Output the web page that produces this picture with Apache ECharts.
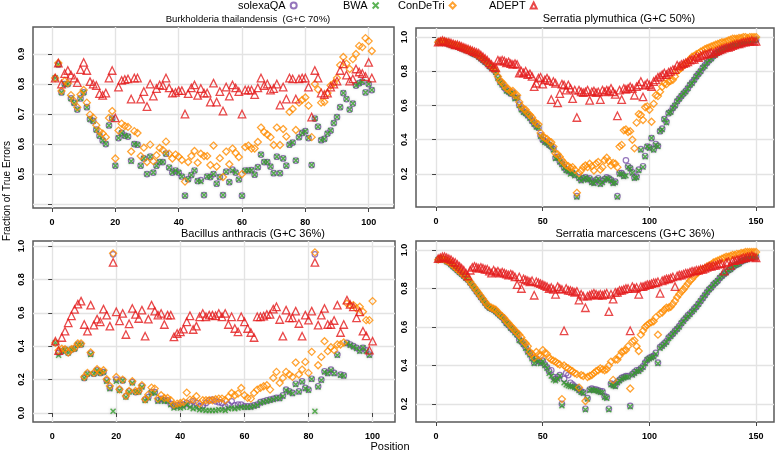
<!DOCTYPE html>
<html>
<head>
<meta charset="utf-8">
<script src="https://cdn.jsdelivr.net/npm/echarts@6/dist/echarts.min.js"></script>
<style>html,body{margin:0;padding:0;background:#fff}#c{width:778px;height:456px}</style>
</head>
<body>
<div id="c"></div>
<script>
// ---------- DATA ----------
const seriesNames = ['solexaQA', 'BWA', 'ConDeTri', 'ADEPT'];
const panelTitles = ['Burkholderia thailandensis  (G+C 70%)', 'Serratia plymuthica (G+C 50%)', 'Bacillus anthracis (G+C 36%)', 'Serratia marcescens (G+C 36%)'];

const pos101 = [1,2,3,4,5,6,7,8,9,10,11,12,13,14,15,16,17,18,19,20,21,22,23,24,25,26,27,28,29,30,31,32,33,34,35,36,37,38,39,40,41,42,43,44,45,46,47,48,49,50,51,52,53,54,55,56,57,58,59,60,61,62,63,64,65,66,67,68,69,70,71,72,73,74,75,76,77,78,79,80,81,82,83,84,85,86,87,88,89,90,91,92,93,94,95,96,97,98,99,100,101];
const pos150 = [1,2,3,4,5,6,7,8,9,10,11,12,13,14,15,16,17,18,19,20,21,22,23,24,25,26,27,28,29,30,31,32,33,34,35,36,37,38,39,40,41,42,43,44,45,46,47,48,49,50,51,52,53,54,55,56,57,58,59,60,61,62,63,64,65,66,67,68,69,70,71,72,73,74,75,76,77,78,79,80,81,82,83,84,85,86,87,88,89,90,91,92,93,94,95,96,97,98,99,100,101,102,103,104,105,106,107,108,109,110,111,112,113,114,115,116,117,118,119,120,121,122,123,124,125,126,127,128,129,130,131,132,133,134,135,136,137,138,139,140,141,142,143,144,145,146,147,148,149,150];

// Panel 1: Burkholderia thailandensis
const p1Adept = [0.82,0.87,0.80,0.835,0.845,0.83,0.82,0.805,0.848,0.872, 0.845,0.808,0.80,0.795,0.768,0.762,0.77,0.82,0.845,0.687, 0.79,0.812,0.815,0.817,0.75,0.82,0.82,0.75,0.775,0.725, 0.80,0.76,0.785,0.797,0.795,0.82,0.787,0.77,0.772,0.778, 0.778,0.70,0.768,0.787,0.797,0.762,0.785,0.77,0.77,0.74, 0.803,0.74,0.775,0.71,0.79,0.76,0.797,0.787,0.775,0.70, 0.78,0.78,0.78,0.765,0.787,0.82,0.795,0.80,0.78,0.785, 0.80,0.73,0.79,0.75,0.82,0.817,0.75,0.817,0.82,0.82, 0.79,0.69,0.845,0.82,0.77,0.765,0.77,0.79,0.80,0.81, 0.845,0.867,0.83,0.81,0.817,0.85,0.84,0.835,0.825,0.872,0.82];
const p1ConDeTri = [0.82,0.87,0.777,0.81,0.803,0.763,0.743,0.723,0.765,0.78, 0.738,0.698,0.688,0.663,0.642,0.635,0.623,0.687,0.71,0.552, 0.645,0.668,0.66,0.657,0.575,0.643,0.637,0.56,0.588,0.54, 0.598,0.543,0.563,0.587,0.58,0.608,0.568,0.552,0.565,0.558, 0.547,0.475,0.54,0.56,0.577,0.538,0.568,0.56,0.56,0.53, 0.595,0.525,0.553,0.49,0.575,0.533,0.585,0.57,0.557,0.50, 0.59,0.595,0.585,0.585,0.607,0.655,0.64,0.632,0.623,0.597, 0.655,0.597,0.65,0.625,0.707,0.717,0.647,0.738,0.747,0.755, 0.728,0.623,0.80,0.782,0.738,0.74,0.77,0.795,0.803,0.82, 0.863,0.89,0.868,0.85,0.883,0.9,0.927,0.923,0.953,0.943,0.91];
const p1BWA = [0.82,0.865,0.772,0.80,0.80,0.752,0.737,0.715,0.752,0.772, 0.723,0.683,0.677,0.648,0.628,0.612,0.60,0.662,0.685,0.528, 0.62,0.637,0.628,0.625,0.543,0.60,0.598,0.528,0.552,0.50, 0.558,0.505,0.528,0.54,0.54,0.568,0.522,0.505,0.512,0.505, 0.492,0.428,0.483,0.497,0.512,0.477,0.475,0.43,0.492,0.49, 0.50,0.468,0.49,0.43,0.508,0.473,0.512,0.505,0.482,0.428, 0.512,0.512,0.513,0.498,0.523,0.565,0.54,0.54,0.525,0.503, 0.558,0.503,0.552,0.528,0.598,0.605,0.545,0.623,0.637,0.643, 0.62,0.53,0.685,0.658,0.613,0.617,0.635,0.645,0.67,0.69, 0.723,0.77,0.75,0.715,0.735,0.795,0.803,0.808,0.772,0.80,0.78];
const p1Solexa = [0.82,0.865,0.772,0.80,0.80,0.752,0.737,0.715,0.752,0.772, 0.723,0.683,0.677,0.648,0.628,0.612,0.60,0.662,0.685,0.528, 0.62,0.637,0.628,0.625,0.545,0.60,0.598,0.528,0.552,0.50, 0.558,0.505,0.528,0.54,0.54,0.568,0.522,0.505,0.512,0.505, 0.492,0.428,0.483,0.497,0.512,0.477,0.48,0.43,0.492,0.49, 0.50,0.468,0.49,0.43,0.508,0.473,0.515,0.505,0.482,0.428, 0.512,0.512,0.513,0.498,0.523,0.565,0.54,0.54,0.525,0.503, 0.558,0.503,0.552,0.528,0.598,0.605,0.545,0.623,0.637,0.643, 0.62,0.53,0.685,0.658,0.613,0.617,0.635,0.645,0.67,0.69, 0.723,0.77,0.75,0.715,0.735,0.795,0.803,0.808,0.772,0.80,0.78];

// Panel 2: Serratia plymuthica
const p2Adept = [0.97,0.975,0.98,0.975,0.97,0.97,0.965,0.96,0.955,0.955, 0.95,0.945,0.94,0.935,0.93,0.925,0.92,0.915,0.91,0.905, 0.895,0.885,0.875,0.865,0.85,0.84,0.825,0.82,0.865,0.86, 0.865,0.86,0.85,0.855,0.845,0.84,0.845,0.84,0.79,0.80, 0.79,0.80,0.78,0.785,0.77,0.71,0.73,0.76,0.765,0.725, 0.75,0.76,0.745,0.635,0.74,0.73,0.615,0.67,0.725,0.72, 0.69,0.72,0.70,0.64,0.69,0.53,0.69,0.68,0.675,0.68, 0.69,0.63,0.68,0.685,0.675,0.68,0.635,0.69,0.68,0.69, 0.685,0.70,0.68,0.665,0.54,0.69,0.635,0.70,0.695,0.70, 0.71,0.70,0.66,0.71,0.72,0.74,0.65,0.72,0.73,0.72, 0.71,0.74,0.75,0.765,0.77,0.78,0.79,0.78,0.795,0.80, 0.81,0.81,0.835,0.83,0.84,0.845,0.85,0.855,0.865,0.87, 0.87,0.885,0.88,0.89,0.895,0.9,0.9,0.905,0.91,0.905, 0.915,0.92,0.925,0.93,0.935,0.94,0.94,0.945,0.95,0.955, 0.96,0.96,0.965,0.97,0.97,0.975,0.975,0.98,0.975,0.975];
const p2ConDeTri = [0.97,0.975,0.975,0.975,0.97,0.965,0.96,0.955,0.955,0.95, 0.945,0.94,0.935,0.93,0.925,0.92,0.915,0.905,0.9,0.895, 0.885,0.875,0.865,0.855,0.84,0.83,0.82,0.80,0.77,0.745, 0.735,0.72,0.70,0.695,0.68,0.685,0.66,0.66,0.62,0.595, 0.58,0.575,0.555,0.545,0.53,0.51,0.495,0.49,0.44,0.42, 0.41,0.405,0.39,0.385,0.36,0.32,0.315,0.30,0.28,0.265, 0.25,0.245,0.235,0.24,0.225,0.09,0.205,0.22,0.24,0.25, 0.24,0.26,0.245,0.22,0.26,0.27,0.225,0.24,0.28,0.295, 0.275,0.25,0.265,0.26,0.24,0.36,0.37,0.455,0.46,0.445, 0.45,0.40,0.35,0.50,0.55,0.545,0.515,0.59,0.595,0.575, 0.505,0.61,0.66,0.655,0.68,0.71,0.73,0.725,0.74,0.745, 0.75,0.77,0.80,0.81,0.82,0.835,0.845,0.855,0.87,0.885, 0.89,0.9,0.905,0.915,0.92,0.93,0.935,0.94,0.945,0.95, 0.955,0.96,0.965,0.97,0.97,0.975,0.98,0.985,0.99,0.99, 0.99,0.995,0.995,1.0,1.0,0.995,1.0,1.0,1.0,1.0];
const p2BWA = [0.97,0.97,0.975,0.97,0.965,0.96,0.955,0.95,0.95,0.945, 0.94,0.935,0.93,0.925,0.92,0.915,0.905,0.9,0.895,0.885, 0.875,0.865,0.855,0.845,0.83,0.82,0.81,0.795,0.76,0.735, 0.72,0.705,0.685,0.68,0.67,0.67,0.64,0.645,0.60,0.575, 0.56,0.555,0.54,0.525,0.51,0.49,0.475,0.47,0.42,0.40, 0.385,0.38,0.37,0.36,0.34,0.29,0.295,0.27,0.255,0.235, 0.22,0.215,0.2,0.205,0.19,0.065,0.175,0.16,0.17,0.18, 0.165,0.17,0.15,0.145,0.16,0.17,0.14,0.15,0.165,0.175, 0.17,0.16,0.145,0.15,0.065,0.2,0.2,0.185,0.19,0.24, 0.23,0.205,0.175,0.18,0.22,0.34,0.24,0.3,0.36,0.35, 0.41,0.34,0.37,0.36,0.45,0.46,0.52,0.5,0.555,0.56, 0.585,0.6,0.625,0.64,0.655,0.67,0.68,0.7,0.72,0.73, 0.75,0.77,0.785,0.80,0.82,0.83,0.85,0.865,0.875,0.89, 0.9,0.91,0.915,0.925,0.93,0.935,0.94,0.945,0.95,0.955, 0.955,0.96,0.965,0.965,0.97,0.975,0.975,0.98,0.98,0.985];
const p2Solexa = [0.97,0.97,0.975,0.97,0.965,0.96,0.955,0.95,0.95,0.945, 0.94,0.935,0.93,0.925,0.92,0.915,0.905,0.9,0.895,0.885, 0.875,0.865,0.855,0.845,0.83,0.82,0.81,0.795,0.765,0.74, 0.725,0.705,0.69,0.68,0.67,0.675,0.645,0.645,0.605,0.58, 0.565,0.555,0.545,0.53,0.51,0.495,0.48,0.47,0.425,0.40, 0.39,0.385,0.37,0.36,0.345,0.295,0.3,0.275,0.26,0.24, 0.225,0.22,0.21,0.205,0.195,0.07,0.18,0.165,0.175,0.18, 0.17,0.175,0.155,0.15,0.165,0.175,0.145,0.16,0.17,0.18, 0.175,0.165,0.15,0.155,0.07,0.205,0.205,0.19,0.28,0.245, 0.235,0.21,0.18,0.185,0.225,0.345,0.245,0.305,0.36,0.355, 0.41,0.345,0.375,0.365,0.45,0.465,0.52,0.505,0.555,0.565, 0.585,0.6,0.625,0.64,0.655,0.67,0.685,0.7,0.72,0.735, 0.75,0.77,0.785,0.80,0.82,0.835,0.85,0.865,0.875,0.89, 0.9,0.91,0.915,0.925,0.93,0.935,0.94,0.945,0.95,0.955, 0.955,0.96,0.965,0.965,0.97,0.975,0.975,0.98,0.98,0.985];

// Panel 3: Bacillus anthracis
const p3Adept = [0.43,0.374,0.452,0.49,0.54,0.582,0.62,0.652,0.67,0.53, 0.49,0.646,0.526,0.562,0.546,0.622,0.586,0.52,0.902,0.606, 0.552,0.596,0.47,0.534,0.626,0.59,0.566,0.616,0.46,0.562, 0.646,0.61,0.586,0.596,0.53,0.586,0.586,0.456,0.476,0.486, 0.502,0.546,0.582,0.50,0.52,0.576,0.596,0.576,0.586,0.586, 0.582,0.596,0.576,0.596,0.53,0.576,0.506,0.486,0.576,0.546, 0.506,0.482,0.452,0.576,0.576,0.58,0.59,0.59,0.622,0.636, 0.56,0.46,0.616,0.57,0.57,0.61,0.536,0.46,0.586,0.556, 0.61,0.902,0.526,0.586,0.626,0.53,0.53,0.554,0.646,0.482, 0.53,0.676,0.65,0.636,0.57,0.606,0.49,0.462,0.376,0.43];
const p3ConDeTri = [0.42,0.375,0.385,0.382,0.362,0.382,0.39,0.416,0.416,0.216, 0.24,0.362,0.24,0.262,0.246,0.256,0.202,0.162,0.956,0.216, 0.142,0.2,0.102,0.132,0.19,0.132,0.132,0.166,0.082,0.11, 0.152,0.146,0.086,0.106,0.09,0.09,0.076,0.05,0.056,0.06, 0.066,0.122,0.08,0.08,0.1,0.056,0.076,0.076,0.076,0.076, 0.082,0.086,0.086,0.076,0.096,0.12,0.106,0.116,0.15,0.106, 0.09,0.086,0.12,0.14,0.15,0.16,0.166,0.14,0.21,0.246, 0.18,0.21,0.246,0.23,0.216,0.302,0.23,0.26,0.306,0.24, 0.366,0.962,0.286,0.336,0.43,0.37,0.394,0.376,0.41,0.41, 0.422,0.656,0.646,0.646,0.626,0.636,0.606,0.556,0.556,0.67];
const p3BWA = [0.42,0.346,0.37,0.38,0.36,0.38,0.385,0.41,0.41,0.21, 0.235,0.35,0.235,0.255,0.24,0.245,0.19,0.145,0.01,0.19, 0.135,0.195,0.095,0.125,0.18,0.125,0.125,0.155,0.075,0.09, 0.12,0.12,0.07,0.08,0.07,0.07,0.05,0.03,0.035,0.03, 0.035,0.05,0.035,0.025,0.03,0.02,0.02,0.015,0.015,0.015, 0.015,0.02,0.02,0.015,0.025,0.03,0.025,0.03,0.035,0.035, 0.035,0.035,0.04,0.046,0.06,0.066,0.07,0.076,0.08,0.09, 0.086,0.10,0.136,0.126,0.116,0.17,0.126,0.186,0.146,0.136, 0.202,0.01,0.156,0.196,0.246,0.236,0.256,0.236,0.346,0.226, 0.222,0.416,0.406,0.396,0.386,0.37,0.39,0.37,0.346,null];
const p3Solexa = [0.42,0.36,0.37,0.38,0.36,0.38,0.385,0.41,0.41,0.21, 0.235,0.355,0.235,0.255,0.24,0.245,0.195,0.15,0.95,0.2, 0.14,0.195,0.1,0.13,0.185,0.125,0.13,0.16,0.08,0.095, 0.125,0.125,0.075,0.085,0.075,0.075,0.055,0.04,0.045,0.05, 0.05,0.06,0.05,0.07,0.06,0.04,0.045,0.06,0.075,0.08, 0.07,0.065,0.06,0.04,0.05,0.07,0.045,0.05,0.05,0.04, 0.04,0.04,0.045,0.05,0.065,0.07,0.075,0.08,0.085,0.09, 0.09,0.105,0.14,0.13,0.12,0.175,0.13,0.19,0.15,0.14, 0.205,0.95,0.16,0.2,0.25,0.24,0.26,0.24,0.35,0.23, 0.225,0.42,0.41,0.40,0.39,0.375,0.39,0.375,0.35,null];

// Panel 4: Serratia marcescens
const p4Adept = [0.955,0.96,0.965,0.965,0.96,0.955,0.95,0.94,0.935,0.925, 0.915,0.905,0.895,0.88,0.865,0.895,0.91,0.915,0.91,0.905, 0.91,0.905,0.9,0.9,0.89,0.88,0.895,0.885,0.89,0.88, 0.885,0.88,0.875,0.87,0.875,0.87,0.86,0.82,0.86,0.80, 0.85,0.845,0.84,0.835,0.84,0.765,0.835,0.83,0.825,0.82, 0.815,0.81,0.8,0.805,0.795,0.77,0.81,0.8,0.795,0.58, 0.8,0.79,0.79,0.785,0.78,0.785,0.74,0.77,0.76,0.70, 0.76,0.765,0.77,0.775,0.77,0.765,0.77,0.765,0.77,0.775, 0.68,0.77,0.745,0.78,0.78,0.79,0.79,0.795,0.8,0.80, 0.58,0.81,0.8,0.805,0.77,0.81,0.81,0.815,0.82,0.82, 0.825,0.83,0.83,0.835,0.775,0.84,0.845,0.85,0.85,0.855, 0.86,0.81,0.865,0.87,0.87,0.875,0.88,0.88,0.885,0.89, 0.89,0.895,0.895,0.9,0.9,0.905,0.91,0.915,0.915,0.92, 0.92,0.925,0.93,0.93,0.89,0.935,0.94,0.92,0.945,0.945, 0.95,0.95,0.955,0.96,0.96,0.965,0.965,0.97,0.965,0.96];
const p4ConDeTri = [0.95,0.955,0.955,0.95,0.945,0.94,0.93,0.92,0.91,0.9, 0.89,0.88,0.87,0.86,0.85,0.835,0.82,0.805,0.79,0.775, 0.76,0.745,0.73,0.715,0.705,0.70,0.695,0.69,0.675,0.665, 0.655,0.645,0.63,0.62,0.605,0.595,0.58,0.57,0.56,0.545, 0.525,0.515,0.5,0.47,0.46,0.44,0.47,0.455,0.45,0.48, 0.465,0.46,0.44,0.43,0.425,0.42,0.41,0.405,0.225,0.4, 0.39,0.385,0.375,0.37,0.36,0.355,0.285,0.35,0.345,0.215, 0.34,0.345,0.35,0.36,0.37,0.375,0.385,0.38,0.375,0.38, 0.4,0.42,0.325,0.43,0.43,0.45,0.47,0.475,0.48,0.5, 0.28,0.525,0.53,0.5,0.475,0.56,0.58,0.6,0.61,0.62, 0.625,0.63,0.65,0.56,0.67,0.675,0.69,0.7,0.7,0.705, 0.72,0.735,0.755,0.77,0.785,0.795,0.81,0.825,0.84,0.85, 0.865,0.875,0.885,0.895,0.9,0.905,0.915,0.92,0.925,0.935, 0.94,0.945,0.95,0.955,0.96,0.965,0.965,0.97,0.975,0.975, 0.98,0.98,0.985,0.985,0.99,0.99,0.99,0.99,0.99,0.99];
const p4BWA = [0.95,0.955,0.955,0.95,0.94,0.935,0.925,0.915,0.905,0.895, 0.885,0.875,0.865,0.855,0.845,0.83,0.815,0.8,0.785,0.77, 0.755,0.74,0.725,0.71,0.7,0.695,0.69,0.68,0.67,0.66, 0.65,0.635,0.62,0.61,0.595,0.585,0.57,0.56,0.53,0.525, 0.51,0.49,0.47,0.455,0.435,0.41,0.43,0.42,0.41,0.42, 0.4,0.385,0.36,0.345,0.325,0.32,0.33,0.345,0.19,0.31, 0.3,0.295,0.29,0.29,0.285,0.28,0.27,0.26,0.255,0.17, 0.225,0.27,0.275,0.27,0.27,0.265,0.26,0.26,0.235,0.23, 0.17,0.3,0.295,0.29,0.31,0.32,0.33,0.335,0.34,0.34, 0.185,0.35,0.36,0.37,0.37,0.38,0.39,0.41,0.43,0.435, 0.44,0.445,0.46,0.41,0.49,0.5,0.51,0.52,0.54,0.55, 0.565,0.575,0.59,0.6,0.62,0.63,0.645,0.655,0.665,0.68, 0.69,0.705,0.72,0.735,0.75,0.765,0.78,0.795,0.805,0.82, 0.83,0.84,0.855,0.865,0.875,0.885,0.895,0.9,0.91,0.92, 0.925,0.93,0.94,0.945,0.95,0.955,0.96,0.96,0.965,0.965];
const p4Solexa = [0.95,0.955,0.955,0.95,0.94,0.935,0.925,0.915,0.905,0.895, 0.885,0.875,0.865,0.855,0.845,0.83,0.815,0.8,0.785,0.77, 0.755,0.74,0.725,0.71,0.7,0.695,0.69,0.68,0.67,0.66, 0.65,0.635,0.62,0.61,0.595,0.585,0.575,0.56,0.535,0.525, 0.51,0.495,0.475,0.46,0.44,0.415,0.435,0.425,0.415,0.425, 0.405,0.39,0.37,0.375,0.34,0.33,0.34,0.35,0.2,0.33, 0.36,0.35,0.31,0.3,0.29,0.285,0.275,0.265,0.26,0.175, 0.23,0.275,0.28,0.275,0.275,0.27,0.265,0.265,0.24,0.235, 0.175,0.305,0.3,0.295,0.315,0.325,0.335,0.34,0.345,0.345, 0.19,0.355,0.365,0.375,0.375,0.385,0.395,0.415,0.43,0.44, 0.445,0.45,0.465,0.415,0.495,0.505,0.515,0.525,0.545,0.555, 0.565,0.58,0.59,0.605,0.62,0.635,0.645,0.66,0.67,0.68, 0.695,0.705,0.72,0.735,0.75,0.765,0.78,0.795,0.805,0.82, 0.83,0.84,0.855,0.865,0.875,0.885,0.895,0.9,0.91,0.92, 0.925,0.93,0.94,0.945,0.95,0.955,0.96,0.96,0.965,0.965];

// Axis tick values / labels
const xTicks100 = [0, 20, 40, 60, 80, 100];
const xTicks150 = [0, 50, 100, 150];
const yTicks1 = [0.4, 0.5, 0.6, 0.7, 0.8, 0.9];
const yLabels1 = [0.5, 0.6, 0.7, 0.8, 0.9];
const yTicks2 = [0.2, 0.4, 0.6, 0.8, 1.0];
const yTicks3 = [0.0, 0.2, 0.4, 0.6, 0.8, 1.0];
const yTicks4 = [0.2, 0.4, 0.6, 0.8, 1.0];

// ---------- CHART ----------
const FONT = 'Liberation Sans';
const colors = { solexaQA: '#7B52AB', BWA: '#33A02C', ConDeTri: '#FF8C00', ADEPT: '#E31A1C' };
const xPath = 'path://M0,0 L10,10 M10,0 L0,10';

const panels = [
  { pos: pos101, data: [p1Solexa, p1BWA, p1ConDeTri, p1Adept], grid: { left: 33, top: 27, width: 361, height: 181 },
    x: [-6, 108, xTicks100, xTicks100], y: [0.387, 0.99, yTicks1, yLabels1], title: [248, 19, 9.5] },
  { pos: pos150, data: [p2Solexa, p2BWA, p2ConDeTri, p2Adept], grid: { left: 416, top: 28, width: 358, height: 179 },
    x: [-9.4, 158.4, xTicks150, xTicks150], y: [0.007, 1.053, yTicks2, yTicks2], title: [619, 19, 11] },
  { pos: pos101, data: [p3Solexa, p3BWA, p3ConDeTri, p3Adept], grid: { left: 33, top: 241, width: 362, height: 181 },
    x: [-6, 107, xTicks100, xTicks100], y: [-0.054, 1.03, yTicks3, yTicks3], title: [253, 234, 11] },
  { pos: pos150, data: [p4Solexa, p4BWA, p4ConDeTri, p4Adept], grid: { left: 416, top: 241, width: 358, height: 181 },
    x: [-9.4, 158.4, xTicks150, xTicks150], y: [0.106, 1.047, yTicks4, yTicks4], title: [635, 234, 11] }
];

function styleFor(name) {
  const c = colors[name];
  if (name === 'solexaQA') return { symbol: 'circle', symbolSize: 5.5, itemStyle: { color: 'rgba(255,255,255,0)', borderColor: c, borderWidth: 1.2 } };
  if (name === 'BWA') return { symbol: xPath, symbolSize: 5, itemStyle: { color: 'rgba(0,0,0,0)', borderColor: c, borderWidth: 1.4, shadowColor: 'rgba(90,90,90,0.55)', shadowBlur: 3 } };
  if (name === 'ConDeTri') return { symbol: 'diamond', symbolSize: 7, itemStyle: { color: 'rgba(255,255,255,0)', borderColor: c, borderWidth: 1.3 } };
  return { symbol: 'triangle', symbolSize: 7.5, itemStyle: { color: 'rgba(255,255,255,0)', borderColor: c, borderWidth: 1.3 } };
}

const grids = [], xAxes = [], yAxes = [], series = [], graphics = [];
panels.forEach((p, gi) => {
  grids.push(Object.assign({ show: true, borderColor: '#5a5a5a', borderWidth: 1.5, backgroundColor: 'rgba(0,0,0,0)' }, p.grid));
  xAxes.push({
    type: 'value', gridIndex: gi, min: p.x[0], max: p.x[1],
    axisLine: { show: false },
    axisTick: { show: true, customValues: p.x[2], length: 4, lineStyle: { color: '#444', width: 1 } },
    axisLabel: { customValues: p.x[3], fontSize: 9, fontWeight: 'bold', color: '#000', margin: 10, fontFamily: FONT },
    splitLine: { show: true, lineStyle: { color: '#e3e3e3', width: 1.4 } }
  });
  yAxes.push({
    type: 'value', gridIndex: gi, min: p.y[0], max: p.y[1],
    axisLine: { show: false },
    axisTick: { show: true, customValues: p.y[2], length: 4, lineStyle: { color: '#444', width: 1 } },
    axisLabel: { customValues: p.y[3], rotate: 90, fontSize: 9, fontWeight: 'bold', color: '#000', margin: 7, fontFamily: FONT,
      formatter: v => v.toFixed(1) },
    splitLine: { show: true, lineStyle: { color: '#e3e3e3', width: 1.4 } }
  });
  seriesNames.forEach((name, si) => {
    const ys = p.data[si];
    const pts = [];
    ys.forEach((v, i) => { if (v !== null && v !== undefined) pts.push([p.pos[i], v]); });
    series.push(Object.assign({ type: 'scatter', name: name, xAxisIndex: gi, yAxisIndex: gi, data: pts, z: 2 + si, silent: true }, styleFor(name)));
  });
  graphics.push({ type: 'text', x: p.title[0], y: p.title[1], style: { text: panelTitles[gi], font: p.title[2] + 'px ' + FONT, fill: '#000', textAlign: 'center', textVerticalAlign: 'middle' } });
});

graphics.push({ type: 'text', x: 390, y: 447, style: { text: 'Position', font: '11px ' + FONT, fill: '#000', textAlign: 'center', textVerticalAlign: 'middle' } });
graphics.push({ type: 'text', x: 7, y: 191, rotation: Math.PI / 2, style: { text: 'Fraction of True Errors', font: '10px ' + FONT, fill: '#000', textAlign: 'center', textVerticalAlign: 'middle' } });

const legendLefts = [238, 343, 398, 489];
const legends = seriesNames.map((n, i) => ({
  data: [n], left: legendLefts[i], top: 0, align: 'right', orient: 'horizontal',
  itemWidth: 6, itemHeight: 6, padding: 0, selectedMode: false,
  textStyle: { fontSize: 11, fontFamily: FONT, color: '#000' }
}));

const chart = echarts.init(document.getElementById('c'), null, { renderer: 'canvas' });
chart.setOption({
  animation: false,
  backgroundColor: '#fff',
  legend: legends,
  grid: grids,
  xAxis: xAxes,
  yAxis: yAxes,
  series: series,
  graphic: graphics
});
</script>
</body>
</html>
